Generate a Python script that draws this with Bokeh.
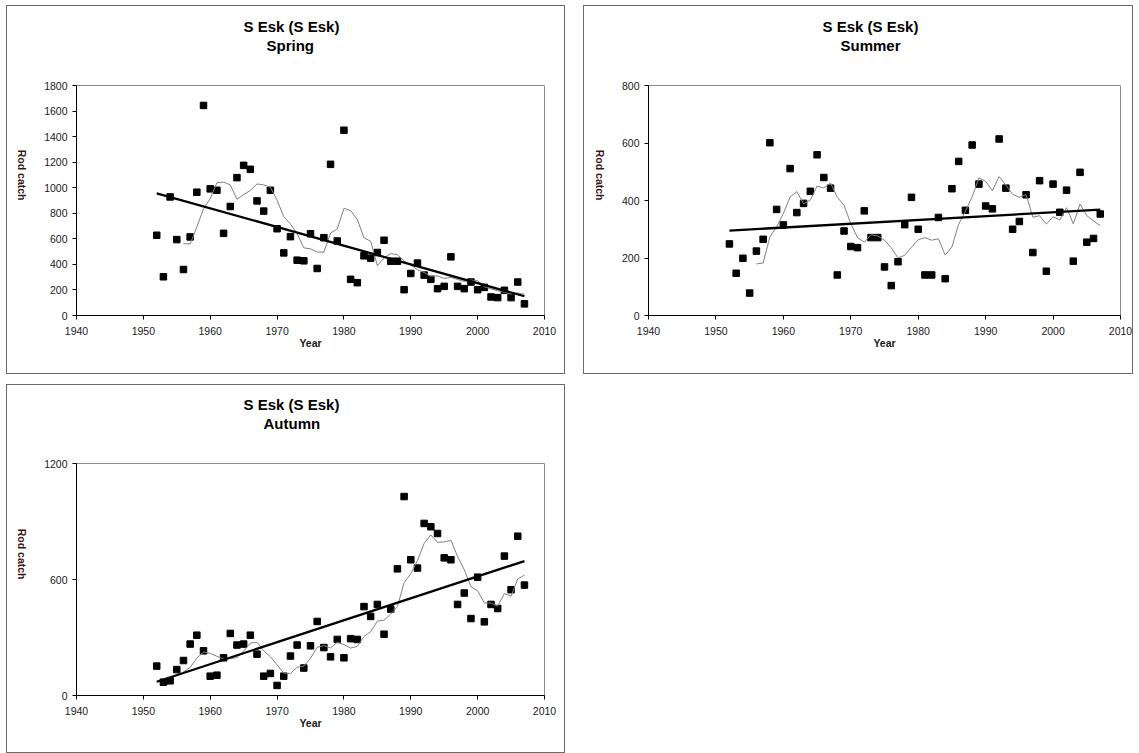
import math
import numpy as np
from bokeh.plotting import figure
from bokeh.models import Title, Range1d, FixedTicker
from bokeh.layouts import column, row
from bokeh.embed import file_html
from bokeh.resources import INLINE

# ---------------- data ----------------
years = list(range(1952, 2008))
x_ticks = [1940, 1950, 1960, 1970, 1980, 1990, 2000, 2010]

spring = [628, 303, 928, 594, 360, 615, 965, 1644, 991, 980,
          643, 853, 1079, 1175, 1144, 897, 817, 980, 679, 490,
          617, 433, 428, 640, 368, 609, 1183, 583, 1450, 283,
          257, 467, 449, 493, 589, 425, 425, 202, 329, 410,
          316, 283, 210, 228, 459, 228, 210, 262, 202, 220,
          145, 140, 197, 140, 262, 91]
spring_ticks = [0, 200, 400, 600, 800, 1000, 1200, 1400, 1600, 1800]

summer = [249, 147, 199, 78, 224, 265, 601, 369, 315, 511,
          358, 390, 432, 559, 480, 443, 141, 294, 240, 236,
          364, 271, 271, 169, 104, 187, 316, 411, 300, 141,
          141, 341, 128, 441, 536, 366, 593, 457, 381, 371,
          614, 443, 300, 327, 420, 219, 469, 154, 457, 359,
          436, 189, 498, 255, 268, 353]
summer_ticks = [0, 200, 400, 600, 800]

autumn = [152, 69, 76, 134, 181, 266, 312, 231, 100, 105,
          195, 321, 261, 266, 312, 214, 100, 114, 52, 100,
          204, 261, 142, 257, 383, 248, 200, 290, 195, 294,
          290, 460, 409, 471, 317, 447, 655, 1029, 702, 659,
          890, 873, 838, 712, 702, 471, 530, 398, 612, 381,
          471, 450, 721, 547, 824, 571]
autumn_ticks = [0, 600, 1200]

river = "S Esk (S Esk)"
FONT = "Liberation Sans"


def title_part(text, offset, standoff):
    return Title(text=text, align="left", offset=offset, standoff=standoff,
                 text_font=FONT, text_font_size="15px", text_font_style="bold",
                 text_color="black")


def make_panel(season, values, y_ticks, width, height, frame_left, frame_width,
               frame_top, frame_height, t1_off, t2_off, margin):
    p = figure(width=width, height=height,
               x_range=Range1d(1940, 2010), y_range=Range1d(0, y_ticks[-1]),
               output_backend="svg", toolbar_location=None, title=None,
               min_border_left=frame_left,
               min_border_right=width - frame_left - frame_width,
               min_border_top=frame_top,
               min_border_bottom=height - frame_top - frame_height,
               background_fill_color="white", border_fill_color="white",
               styles={"border": "1px solid #6a6a6a"})
    p.margin = margin
    p.outline_line_color = "#8c8c8c"
    p.outline_line_width = 1
    p.xgrid.visible = False
    p.ygrid.visible = False

    # two-line chart title (stacked outward from the plot area)
    p.add_layout(title_part(" ", 0, 13), "above")          # spacer
    p.add_layout(title_part(season, t2_off, 0), "above")
    p.add_layout(title_part(river, t1_off, 0), "above")

    for ax in (p.xaxis[0], p.yaxis[0]):
        ax.axis_line_color = "black"
        ax.axis_line_width = 1
        ax.major_tick_line_color = "black"
        ax.major_tick_out = 4
        ax.major_tick_in = 0
        ax.minor_tick_line_color = None
        ax.major_label_text_font = FONT
        ax.major_label_text_font_size = "10.5px"
        ax.major_label_text_color = "#1a1a1a"
        ax.axis_label_text_font = FONT
        ax.axis_label_text_font_size = "10.5px"
        ax.axis_label_text_font_style = "bold"

    p.xaxis.ticker = FixedTicker(ticks=x_ticks)
    p.yaxis.ticker = FixedTicker(ticks=y_ticks)
    p.xaxis.axis_label = "Year"
    p.xaxis.axis_label_text_color = "#1a1a1a"
    p.xaxis.major_label_standoff = 7
    p.xaxis.axis_label_standoff = -1
    p.yaxis.axis_label = "Rod catch"
    p.yaxis.axis_label_text_color = "#3a1616"
    p.yaxis.major_label_standoff = 5
    p.yaxis.axis_label_standoff = 19
    yax = p.yaxis[0]
    if hasattr(yax, "axis_label_orientation"):
        yax.axis_label_orientation = -math.pi / 2

    yrs = np.array(years, dtype=float)
    vals = np.array(values, dtype=float)

    p.scatter(years, values, marker="square", size=6.5, color="black")

    # 5-year moving average (trailing), as in the spreadsheet trendline
    ma = np.convolve(vals, np.ones(5) / 5.0, mode="valid")
    p.line(years[4:], ma, line_color="#808080", line_width=1)

    # linear trend
    slope, intercept = np.polyfit(yrs, vals, 1)
    xs = [years[0], years[-1]]
    p.line(xs, [slope * x + intercept for x in xs], line_color="black", line_width=2.3)
    return p


p_spring = make_panel("Spring", spring, spring_ticks, 559, 369, 68, 469, 78, 231,
                      167, 190, (5, 0, 0, 6))
p_summer = make_panel("Summer", summer, summer_ticks, 550, 369, 60, 476, 79, 231,
                      174, 192, (5, 0, 0, 18))
p_autumn = make_panel("Autumn", autumn, autumn_ticks, 559, 369, 68, 469, 78, 232,
                      167, 187, (10, 0, 0, 6))

layout = column(row(p_spring, p_summer), p_autumn)

open("out.html", "w").write(file_html(layout, INLINE))
